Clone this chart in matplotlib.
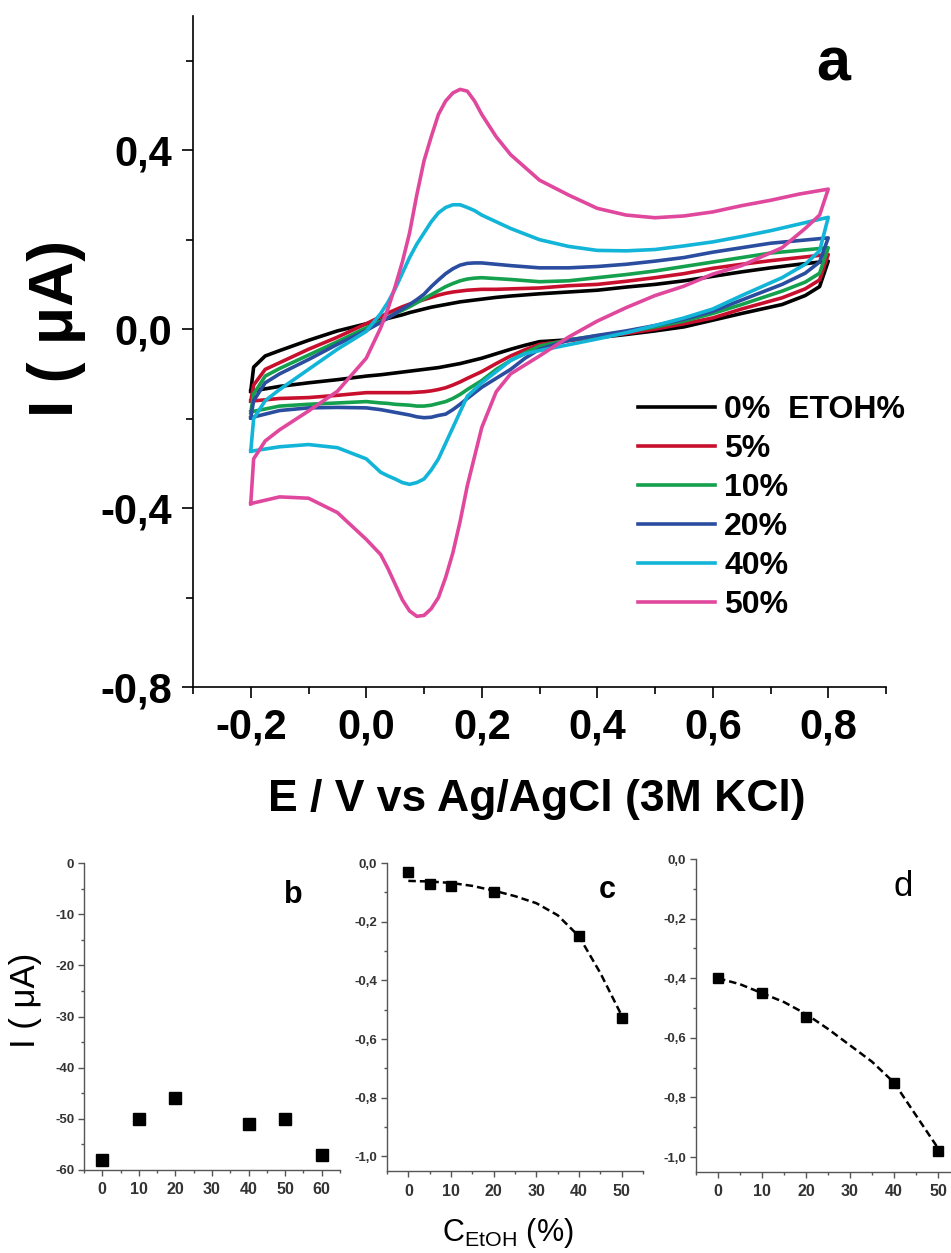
import matplotlib
matplotlib.use("Agg")
import matplotlib.pyplot as plt
from matplotlib.ticker import MultipleLocator, FuncFormatter

plt.rcParams['font.family'] = ['Liberation Sans', 'DejaVu Sans']
plt.rcParams['mathtext.fontset'] = 'custom'
plt.rcParams['mathtext.rm'] = 'Liberation Sans'
plt.rcParams['mathtext.it'] = 'Liberation Sans:italic'

# ---- panel a: cyclic voltammograms (E in V, I in uA) ----
e_fwd = [-0.2, -0.195, -0.175, -0.15, -0.1, -0.05, 0.0, 0.025, 0.0375, 0.05, 0.0625, 0.075, 0.0875,
         0.1, 0.1125, 0.125, 0.1375, 0.15, 0.1625, 0.175, 0.1875, 0.2, 0.225, 0.25, 0.3, 0.35, 0.4,
         0.45, 0.5, 0.55, 0.6, 0.65, 0.7, 0.75, 0.8]
e_rev = [0.8, 0.785, 0.76, 0.72, 0.65, 0.6, 0.55, 0.5, 0.45, 0.4, 0.35, 0.3, 0.275, 0.25, 0.225,
         0.2, 0.175, 0.1625, 0.15, 0.1375, 0.125, 0.1125, 0.1, 0.0875, 0.075, 0.0625, 0.05, 0.0375,
         0.025, 0.0, -0.05, -0.1, -0.15, -0.2]

i_fwd_0 = [-0.139, -0.085, -0.06, -0.048, -0.025, -0.004, 0.012, 0.02, 0.024, 0.028, 0.032, 0.037,
           0.041, 0.045, 0.049, 0.052, 0.055, 0.058, 0.061, 0.063, 0.065, 0.067, 0.071, 0.074, 0.079,
           0.083, 0.087, 0.094, 0.100, 0.108, 0.118, 0.128, 0.137, 0.145, 0.152]
i_rev_0 = [0.152, 0.095, 0.075, 0.055, 0.035, 0.02, 0.005, -0.004, -0.012, -0.019, -0.024, -0.028,
           -0.036, -0.045, -0.055, -0.065, -0.073, -0.077, -0.08, -0.083, -0.086, -0.088, -0.09,
           -0.092, -0.094, -0.096, -0.098, -0.1, -0.102, -0.105, -0.113, -0.12, -0.128, -0.139]

i_fwd_5 = [-0.161, -0.125, -0.09, -0.075, -0.045, -0.018, 0.012, 0.028, 0.036, 0.043, 0.05, 0.056,
           0.061, 0.066, 0.071, 0.076, 0.08, 0.083, 0.085, 0.087, 0.088, 0.089, 0.089, 0.090, 0.092,
           0.097, 0.100, 0.107, 0.115, 0.124, 0.136, 0.145, 0.153, 0.160, 0.167]
i_rev_5 = [0.167, 0.11, 0.09, 0.07, 0.045, 0.025, 0.012, 0.0, -0.01, -0.018, -0.026, -0.034,
           -0.046, -0.06, -0.077, -0.095, -0.11, -0.118, -0.125, -0.131, -0.135, -0.138, -0.14,
           -0.141, -0.142, -0.142, -0.142, -0.142, -0.142, -0.142, -0.148, -0.153, -0.155, -0.161]

i_fwd_10 = [-0.187, -0.145, -0.105, -0.088, -0.058, -0.028, 0.003, 0.018, 0.026, 0.035, 0.042, 0.05,
            0.059, 0.068, 0.077, 0.086, 0.095, 0.102, 0.108, 0.112, 0.114, 0.115, 0.113, 0.111, 0.106,
            0.108, 0.115, 0.122, 0.130, 0.140, 0.150, 0.160, 0.170, 0.176, 0.182]
i_rev_10 = [0.182, 0.125, 0.105, 0.085, 0.055, 0.035, 0.018, 0.005, -0.006, -0.015, -0.024, -0.038,
            -0.053, -0.07, -0.09, -0.115, -0.135, -0.146, -0.155, -0.162, -0.166, -0.17, -0.172,
            -0.172, -0.17, -0.169, -0.168, -0.166, -0.165, -0.162, -0.165, -0.168, -0.172, -0.185]

i_fwd_20 = [-0.198, -0.16, -0.12, -0.10, -0.068, -0.034, -0.003, 0.015, 0.025, 0.035, 0.045, 0.055,
            0.066, 0.078, 0.095, 0.11, 0.124, 0.135, 0.143, 0.147, 0.148, 0.148, 0.145, 0.142, 0.137,
            0.137, 0.140, 0.145, 0.152, 0.160, 0.172, 0.182, 0.192, 0.198, 0.204]
i_rev_20 = [0.204, 0.15, 0.125, 0.10, 0.065, 0.04, 0.022, 0.008, -0.004, -0.014, -0.025, -0.045,
            -0.065, -0.09, -0.11, -0.13, -0.155, -0.168, -0.18, -0.19, -0.193, -0.197, -0.198,
            -0.196, -0.192, -0.189, -0.186, -0.183, -0.18, -0.176, -0.175, -0.176, -0.182, -0.198]

i_fwd_40 = [-0.273, -0.20, -0.16, -0.135, -0.09, -0.045, -0.005, 0.035, 0.06, 0.09, 0.125, 0.16,
            0.19, 0.215, 0.24, 0.26, 0.272, 0.278, 0.278, 0.272, 0.265, 0.255, 0.24, 0.225, 0.20,
            0.185, 0.176, 0.175, 0.178, 0.186, 0.195, 0.207, 0.22, 0.235, 0.25]
i_rev_40 = [0.25, 0.175, 0.145, 0.115, 0.075, 0.045, 0.025, 0.008, -0.008, -0.022, -0.035, -0.048,
            -0.055, -0.07, -0.095, -0.12, -0.15, -0.185, -0.22, -0.255, -0.29, -0.315, -0.335,
            -0.343, -0.347, -0.343, -0.335, -0.328, -0.32, -0.29, -0.265, -0.258, -0.263, -0.273]

i_fwd_50 = [-0.39, -0.29, -0.25, -0.225, -0.183, -0.139, -0.065, 0.003, 0.045, 0.095, 0.15, 0.215,
            0.30, 0.376, 0.43, 0.48, 0.51, 0.528, 0.536, 0.532, 0.51, 0.48, 0.43, 0.39, 0.333, 0.30,
            0.27, 0.255, 0.249, 0.253, 0.262, 0.276, 0.288, 0.302, 0.313]
i_rev_50 = [0.313, 0.255, 0.225, 0.182, 0.142, 0.123, 0.096, 0.075, 0.048, 0.018, -0.018, -0.06,
            -0.08, -0.10, -0.14, -0.22, -0.35, -0.43, -0.50, -0.555, -0.60, -0.625, -0.64, -0.642,
            -0.63, -0.605, -0.57, -0.535, -0.504, -0.47, -0.41, -0.378, -0.375, -0.39]

cv_labels = ['0%  ETOH%', '5%', '10%', '20%', '40%', '50%']
cv_colors = ['#000000', '#C8102E', '#14A04C', '#2B4DA0', '#12B5D8', '#E0489E']
cv_fwd = [i_fwd_0, i_fwd_5, i_fwd_10, i_fwd_20, i_fwd_40, i_fwd_50]
cv_rev = [i_rev_0, i_rev_5, i_rev_10, i_rev_20, i_rev_40, i_rev_50]

# ---- panel b ----
b_x = [0, 10, 20, 40, 50, 60]
b_y = [-58, -50, -46, -51, -50, -57]

# ---- panel c ----
c_x = [0, 5, 10, 20, 40, 50]
c_y = [-0.03, -0.07, -0.08, -0.10, -0.25, -0.53]
c_fit_x = [0, 5, 10, 15, 20, 25, 30, 35, 40, 45, 50]
c_fit_y = [-0.061, -0.063, -0.068, -0.078, -0.094, -0.113, -0.137, -0.178, -0.25, -0.375, -0.52]

# ---- panel d ----
d_x = [0, 10, 20, 40, 50]
d_y = [-0.40, -0.45, -0.53, -0.75, -0.98]
d_fit_x = [0, 5, 10, 15, 20, 25, 30, 35, 40, 45, 50]
d_fit_y = [-0.40, -0.42, -0.45, -0.48, -0.52, -0.57, -0.625, -0.68, -0.75, -0.86, -0.97]

W, H = 951, 1253
fig = plt.figure(figsize=(W / 100, H / 100), dpi=100)


def box(l, t, r, b):
    return [l / W, 1 - b / H, (r - l) / W, (b - t) / H]


def comma(v, pos):
    return f"{round(v, 1):.1f}".replace('.', ',').replace('-0,0', '0,0')


# ================= panel a =================
ax = fig.add_axes(box(193, 16, 886, 687))
for lab, col, fi, ri in zip(cv_labels, cv_colors, cv_fwd, cv_rev):
    ax.plot(e_fwd + e_rev, fi + ri, color=col, lw=2.6, label=lab, solid_joinstyle='round')

ax.set_xlim(-0.3, 0.9)
ax.set_ylim(-0.8, 0.7)
for s in ['top', 'right']:
    ax.spines[s].set_visible(False)
for s in ['left', 'bottom']:
    ax.spines[s].set_linewidth(1.2)
ax.xaxis.set_major_locator(MultipleLocator(0.2))
ax.xaxis.set_minor_locator(MultipleLocator(0.1))
ax.yaxis.set_major_locator(MultipleLocator(0.4))
ax.yaxis.set_minor_locator(MultipleLocator(0.2))
ax.xaxis.set_major_formatter(FuncFormatter(comma))
ax.yaxis.set_major_formatter(FuncFormatter(comma))
ax.tick_params(which='major', direction='out', length=8, width=1.2, pad=7, labelsize=30)
ax.tick_params(which='minor', direction='out', length=5, width=1.2)
for t in ax.get_xticklabels() + ax.get_yticklabels():
    t.set_fontweight('bold')

fig.text(57 / W, 1 - 328 / H, 'I ( μA)', rotation=90, ha='center', va='center',
         fontsize=45, fontweight='bold')
fig.text(537 / W, 1 - 800 / H, 'E / V vs Ag/AgCl (3M KCl)', ha='center', va='center',
         fontsize=32, fontweight='bold')
fig.text(833 / W, 1 - 65 / H, 'a', ha='center', va='center', fontsize=44, fontweight='bold')

ax.legend(loc='upper left', bbox_to_anchor=(638 / W, 1 - 395 / H), bbox_transform=fig.transFigure,
          frameon=False, borderpad=0, borderaxespad=0, handlelength=2.4, handletextpad=0.3,
          labelspacing=0.28, prop={'size': 23, 'weight': 'bold'})


# ================= small panels =================
def small(ax, xlim, ylim, xmaj, ymaj, yfmt):
    ax.set_xlim(*xlim)
    ax.set_ylim(*ylim)
    for s in ['top', 'right']:
        ax.spines[s].set_visible(False)
    for s in ['left', 'bottom']:
        ax.spines[s].set_color('#555555')
        ax.spines[s].set_linewidth(1.0)
    ax.xaxis.set_major_locator(MultipleLocator(xmaj))
    ax.xaxis.set_minor_locator(MultipleLocator(xmaj / 2))
    ax.yaxis.set_major_locator(MultipleLocator(ymaj))
    ax.yaxis.set_minor_locator(MultipleLocator(ymaj / 2))
    ax.yaxis.set_major_formatter(FuncFormatter(yfmt))
    ax.tick_params(which='major', direction='out', length=4, width=1.0, color='#555555',
                   labelcolor='#333333')
    ax.tick_params(which='minor', direction='out', length=2.5, width=1.0, color='#555555')
    ax.tick_params(axis='x', labelsize=11.5, pad=5)
    ax.tick_params(axis='y', labelsize=9.5, pad=3)
    for t in ax.get_xticklabels() + ax.get_yticklabels():
        t.set_fontweight('bold')


axb = fig.add_axes(box(84, 863, 340, 1170))
axb.plot(b_x, b_y, 's', color='black', ms=8, clip_on=False)
small(axb, (-5, 65), (-60, 0), 10, 10, lambda v, p: f"{int(round(v))}")
fig.text(25 / W, 1 - 1000 / H, 'I ( μA)', rotation=90, ha='center', va='center', fontsize=25)
fig.text(293 / W, 1 - 895 / H, 'b', ha='center', va='center', fontsize=22, fontweight='bold')

axc = fig.add_axes(box(387, 863, 643, 1171))
axc.plot(c_fit_x, c_fit_y, color='black', lw=1.8, dashes=(3, 1.6))
axc.plot(c_x, c_y, 's', color='black', ms=7, clip_on=False)
small(axc, (-5, 55), (-1.05, 0), 10, 0.2, comma)
fig.text(607 / W, 1 - 890 / H, 'c', ha='center', va='center', fontsize=22, fontweight='bold')

axd = fig.add_axes(box(696, 859, 960, 1172))
axd.plot(d_fit_x, d_fit_y, color='black', lw=1.8, dashes=(3, 1.6))
axd.plot(d_x, d_y, 's', color='black', ms=7, clip_on=False)
small(axd, (-5, 55), (-1.05, 0), 10, 0.2, comma)
fig.text(903 / W, 1 - 887 / H, 'd', ha='center', va='center', fontsize=25)

fig.text(508 / W, 1 - 1241 / H, r'C$_{\mathrm{EtOH}}$ (%)', ha='center', va='baseline', fontsize=22)

fig.savefig('out.png', dpi=100)
